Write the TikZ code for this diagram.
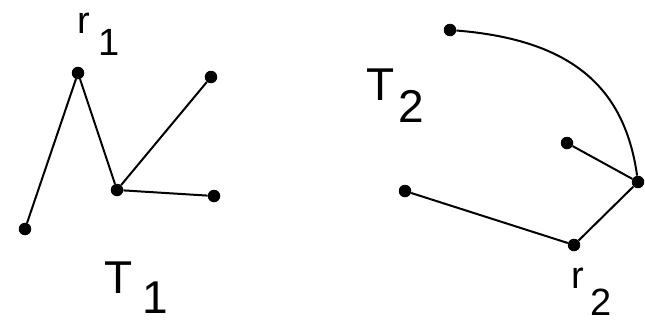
\documentclass[tikz,border=0pt]{standalone}
\usepackage{fontspec}
\setmainfont{Liberation Sans}

\tikzstyle{dot} = [circle, fill, inner sep=0pt, minimum size=12.5pt]
\tikzstyle{lbl} = [anchor=base west, inner sep=0pt, font=\fontsize{46}{46}\selectfont]
\tikzstyle{rlbl} = [anchor=base west, inner sep=0pt, font=\fontsize{38}{38}\selectfont]
\tikzstyle{edge} = [line width=2pt]
\newcommand{\idx}[2]{\hspace{#1}\raisebox{-#2}[0pt][0pt]{1}}
\newcommand{\idxtwo}[2]{\hspace{#1}\raisebox{-#2}[0pt][0pt]{2}}

\begin{document}
\begin{tikzpicture}[x=1pt, y=-1pt]
\useasboundingbox (0,0) rectangle (645,322);
%begin T1
\node[dot] (r1) at (78,73) {};
\node[dot] (a1) at (25,229) {};
\node[dot] (m1) at (117,190) {};
\node[dot] (b1) at (211,77) {};
\node[dot] (c1) at (214,196) {};
\draw[edge] (a1) -- (r1) -- (m1);
\draw[edge] (m1) -- (b1);
\draw[edge] (m1) -- (c1);
\node[rlbl] (r1lbl) at (77,33) {r\idx{9pt}{22pt}};
\node[lbl] (t1lbl) at (104,293) {T\idx{10pt}{20pt}};
%end T1
%begin T2
\node[dot] (a2) at (450,30) {};
\node[dot] (m2) at (638,182) {};
\node[dot] (b2) at (567,143) {};
\node[dot] (c2) at (405,191) {};
\node[dot] (r2) at (574,245) {};
\draw[edge] (a2) .. controls (575,40) and (625,90) .. (m2);
\draw[edge] (b2) -- (m2) -- (r2) -- (c2);
\node[lbl] (t2lbl) at (366,100) {T\idxtwo{4pt}{22pt}};
\node[rlbl] (r2lbl) at (571,288) {r\idxtwo{7pt}{27pt}};
%end T2
\end{tikzpicture}
\end{document}
